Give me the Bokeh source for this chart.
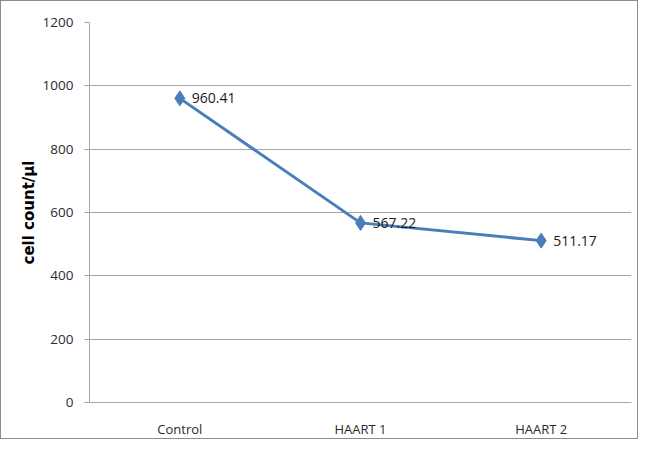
from bokeh.plotting import figure
from bokeh.models import ColumnDataSource, LabelSet, Range1d, FactorRange, FixedTicker
from bokeh.core.properties import value
from bokeh.embed import file_html
from bokeh.resources import INLINE

categories = ["Control", "HAART 1", "HAART 2"]
cell_counts = [960.41, 567.22, 511.17]
y_ticks = [0, 200, 400, 600, 800, 1000, 1200]

FONT = "Open Sans"
BLUE = "#4A7EBB"
GRID = "#A6A6A6"

src = ColumnDataSource(dict(
    cat=categories,
    val=cell_counts,
    lbl=[f"{v:.2f}" for v in cell_counts],
))

W, H = 638, 439
p = figure(
    width=W, height=H,
    x_range=FactorRange(factors=categories),
    y_range=Range1d(0, 1200),
    output_backend="svg", toolbar_location=None,
    min_border_left=88, min_border_right=8, min_border_top=21, min_border_bottom=33,
)
p.styles = {"border": "1px solid #8c8c8c"}
p.outline_line_color = None
p.background_fill_color = "white"
p.border_fill_color = "white"

p.line(x="cat", y="val", source=src, line_color=BLUE, line_width=3)
p.scatter(x="cat", y="val", source=src, marker="diamond", size=15,
          fill_color=BLUE, line_color=BLUE)

labels = LabelSet(x="cat", y="val", text="lbl", source=src, x_offset=12, y_offset=0,
                  text_baseline="middle", text_align="left",
                  text_font=value(FONT), text_font_size="14px", text_color="#1a1a1a")
p.add_layout(labels)

# grid
p.xgrid.grid_line_color = None
p.ygrid.grid_line_color = GRID
p.ygrid.grid_line_width = 1

# y axis
p.yaxis.ticker = FixedTicker(ticks=y_ticks)
p.yaxis.minor_tick_line_color = None
p.yaxis.major_tick_in = 0
p.yaxis.major_tick_out = 5
p.yaxis.major_tick_line_color = GRID
p.yaxis.axis_line_color = GRID
p.yaxis.major_label_text_font = FONT
p.yaxis.major_label_text_font_size = "13.5px"
p.yaxis.major_label_text_color = "#2b2b2b"
p.yaxis.major_label_standoff = 11
p.yaxis.axis_label = "cell count/µl"
p.yaxis.axis_label_text_font = "DejaVu Sans"
p.yaxis.axis_label_text_font_size = "15px"
p.yaxis.axis_label_text_font_style = "bold"
p.yaxis.axis_label_text_color = "#000000"
p.yaxis.axis_label_standoff = 2

# x axis
p.xaxis.major_tick_line_color = None
p.xaxis.minor_tick_line_color = None
p.xaxis.major_tick_in = 0
p.xaxis.major_tick_out = 0
p.xaxis.axis_line_color = GRID
p.xaxis.major_label_text_font = FONT
p.xaxis.major_label_text_font_size = "13px"
p.xaxis.major_label_text_color = "#2b2b2b"
p.xaxis.major_label_standoff = 17

open("out.html", "w").write(file_html(p, INLINE))
